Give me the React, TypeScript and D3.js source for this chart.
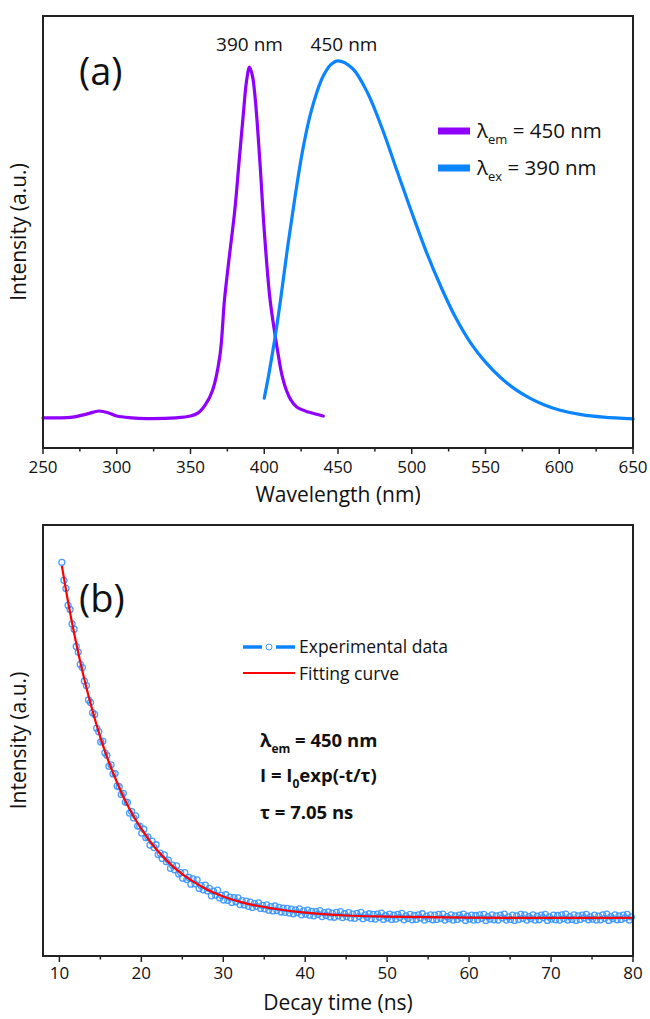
import React from 'react';
import * as d3 from 'd3';

// ---------- Panel (a): spectra ----------
const excWavelength = [250, 260, 270, 280, 288, 295, 300, 310, 320, 340, 350, 355, 360, 365, 370, 373, 376, 380, 383, 386, 388, 390, 392, 394, 397, 400, 404, 409, 412, 415, 418, 422, 430, 440];
const excIntensity = [0.006, 0.006, 0.008, 0.017, 0.025, 0.019, 0.011, 0.006, 0.004, 0.006, 0.011, 0.019, 0.042, 0.083, 0.181, 0.333, 0.444, 0.583, 0.722, 0.861, 0.944, 0.983, 0.958, 0.889, 0.722, 0.528, 0.333, 0.194, 0.125, 0.083, 0.056, 0.036, 0.022, 0.011];

const emWavelength = [400, 403, 407, 411, 416, 421, 426, 431, 436, 440, 445, 450, 460, 470, 480, 490, 500, 510, 520, 530, 540, 550, 560, 570, 580, 590, 600, 615, 630, 650];
const emIntensity = [0.061, 0.125, 0.222, 0.333, 0.486, 0.625, 0.75, 0.847, 0.917, 0.958, 0.989, 1.0, 0.978, 0.911, 0.811, 0.694, 0.578, 0.467, 0.369, 0.283, 0.214, 0.161, 0.119, 0.086, 0.061, 0.042, 0.028, 0.015, 0.008, 0.003];

const wlTicks = [250, 300, 350, 400, 450, 500, 550, 600, 650];
const wlMinor = [275, 325, 375, 425, 475, 525, 575, 625];

// ---------- Panel (b): decay ----------
const decayStart = 10.3;
const decayStep = 0.25;
const decayMeasured = [
  1.010, 0.959, 0.936, 0.888, 0.876, 0.835, 0.820, 0.771, 0.755, 0.720,
  0.711, 0.673, 0.660, 0.619, 0.612, 0.583, 0.578, 0.539, 0.529, 0.500,
  0.502, 0.469, 0.462, 0.431, 0.435, 0.409, 0.410, 0.375, 0.373, 0.351,
  0.354, 0.329, 0.328, 0.298, 0.303, 0.284, 0.290, 0.261, 0.261, 0.241,
  0.252, 0.228, 0.230, 0.207, 0.218, 0.200, 0.208, 0.180, 0.184, 0.169,
  0.179, 0.160, 0.164, 0.141, 0.150, 0.137, 0.148, 0.125, 0.129, 0.113,
  0.129, 0.109, 0.115, 0.096, 0.111, 0.097, 0.108, 0.084, 0.092, 0.080,
  0.093, 0.077, 0.084, 0.063, 0.076, 0.065, 0.079, 0.057, 0.064, 0.051,
  0.066, 0.050, 0.059, 0.044, 0.058, 0.046, 0.057, 0.038, 0.049, 0.037,
  0.048, 0.033, 0.045, 0.030, 0.041, 0.033, 0.043, 0.027, 0.036, 0.026,
  0.037, 0.022, 0.032, 0.020, 0.034, 0.021, 0.030, 0.017, 0.028, 0.016,
  0.027, 0.014, 0.025, 0.012, 0.023, 0.015, 0.026, 0.009, 0.020, 0.011,
  0.022, 0.008, 0.019, 0.006, 0.018, 0.010, 0.021, 0.004, 0.015, 0.007,
  0.017, 0.003, 0.014, 0.002, 0.016, 0.006, 0.018, 0.001, 0.012, 0.004,
  0.015, 0.000, 0.011, -0.001, 0.013, 0.004, 0.016, -0.002, 0.009, 0.002,
  0.012, -0.002, 0.010, -0.003, 0.011, 0.002, 0.014, -0.004, 0.007, 0.000,
  0.011, -0.004, 0.008, -0.003, 0.010, 0.001, 0.013, -0.005, 0.006, -0.001,
  0.010, -0.005, 0.007, -0.004, 0.009, 0.000, 0.012, -0.006, 0.005, -0.002,
  0.009, -0.005, 0.008, -0.004, 0.010, -0.001, 0.011, -0.006, 0.004, -0.002,
  0.009, -0.006, 0.006, -0.004, 0.008, 0.000, 0.011, -0.007, 0.005, -0.003,
  0.008, -0.006, 0.007, -0.005, 0.009, -0.001, 0.010, -0.007, 0.004, -0.003,
  0.009, -0.005, 0.006, -0.006, 0.008, 0.000, 0.011, -0.006, 0.003, -0.004,
  0.008, -0.007, 0.006, -0.004, 0.010, -0.001, 0.009, -0.006, 0.004, -0.002,
  0.009, -0.006, 0.005, -0.005, 0.008, 0.001, 0.010, -0.007, 0.003, -0.003,
  0.008, -0.005, 0.007, -0.006, 0.009, -0.002, 0.011, -0.006, 0.004, -0.004,
  0.009, -0.007, 0.006, -0.004, 0.008, 0.000, 0.010, -0.005, 0.003, -0.003,
  0.008, -0.006, 0.005, -0.005, 0.009, -0.001, 0.011, -0.007, 0.004, -0.002,
  0.009, -0.005, 0.006, -0.004, 0.008, 0.000, 0.010, -0.006, 0.003,
];
const fitTime = [10.3, 11, 12, 13, 14, 15, 16, 17, 18, 19, 20, 22, 24, 26, 28, 30, 33, 36, 40, 45, 50, 60, 70, 80];
const fitIntensity = [1.0, 0.905, 0.786, 0.682, 0.592, 0.513, 0.445, 0.387, 0.335, 0.291, 0.253, 0.19, 0.143, 0.108, 0.081, 0.061, 0.04, 0.027, 0.015, 0.007, 0.004, 0.001, 0.0, 0.0];

const timeTicks = [10, 20, 30, 40, 50, 60, 70, 80];
const timeMinor = [15, 25, 35, 45, 55, 65, 75];

const FONT = "'Open Sans', Lato, sans-serif";
const PURPLE = '#8f00ff';
const BLUE = '#0a84ff';

export default function App() {
  const W = 650, H = 1019;
  const L = 43, R = 633;
  const aTop = 16, aBot = 448;
  const bTop = 525, bBot = 956;

  const xA = d3.scaleLinear().domain([250, 650]).range([L, R]);
  const yA = d3.scaleLinear().domain([-0.078, 1.125]).range([aBot, aTop]);
  const xB = d3.scaleLinear().domain([8, 80]).range([L, R]);
  const yB = d3.scaleLinear().domain([-0.108, 1.116]).range([bBot, bTop]);

  const lineA = d3.line<[number, number]>().x(d => xA(d[0])).y(d => yA(d[1])).curve(d3.curveCatmullRom.alpha(0.5));
  const lineB = d3.line<[number, number]>().x(d => xB(d[0])).y(d => yB(d[1])).curve(d3.curveMonotoneX);

  const excPath = lineA(excWavelength.map((w, i) => [w, excIntensity[i]]));
  const emPath = lineA(emWavelength.map((w, i) => [w, emIntensity[i]]));
  const fitPath = lineB(fitTime.map((t, i) => [t, fitIntensity[i]]));
  const measured = decayMeasured.map((v, i) => [decayStart + i * decayStep, v] as [number, number]);

  const tickLabelStyle = { fontFamily: FONT, fontSize: 17, fill: '#111' } as const;
  const titleStyle = { fontFamily: FONT, fontSize: 21, fill: '#111' } as const;

  return (
    <svg width={W} height={H} style={{ position: 'absolute', left: 0, top: 0, background: '#fff' }}>
      <rect x={0} y={0} width={W} height={H} fill="#fff" />
      {/* ---------- Panel (a) ---------- */}
      <g>
        <path d={excPath || ''} fill="none" stroke={PURPLE} strokeWidth={3.2} strokeLinejoin="round" strokeLinecap="round" />
        <path d={emPath || ''} fill="none" stroke={BLUE} strokeWidth={3.2} strokeLinejoin="round" strokeLinecap="round" />
        <rect x={L} y={aTop} width={R - L} height={aBot - aTop} fill="none" stroke="#222" strokeWidth={2} />
        {wlTicks.map(t => (
          <g key={'a' + t}>
            <line x1={xA(t)} x2={xA(t)} y1={aBot} y2={aBot + 6} stroke="#222" strokeWidth={1.5} />
            <text x={xA(t)} y={aBot + 25} textAnchor="middle" style={tickLabelStyle}>{t}</text>
          </g>
        ))}
        {wlMinor.map(t => (
          <line key={'am' + t} x1={xA(t)} x2={xA(t)} y1={aBot} y2={aBot + 3.5} stroke="#222" strokeWidth={1.5} />
        ))}
        <text x={(L + R) / 2} y={502} textAnchor="middle" style={titleStyle}>Wavelength (nm)</text>
        <text transform={`translate(26, ${(aTop + aBot) / 2}) rotate(-90)`} textAnchor="middle" style={titleStyle}>Intensity (a.u.)</text>
        <text x={79} y={85} style={{ fontFamily: FONT, fontSize: 38, fill: '#111' }}>(a)</text>
        <text x={xA(390)} y={51} textAnchor="middle" style={{ fontFamily: FONT, fontSize: 19, fill: '#111' }}>390 nm</text>
        <text x={xA(450) + 6} y={51} textAnchor="middle" style={{ fontFamily: FONT, fontSize: 19, fill: '#111' }}>450 nm</text>
        {/* legend */}
        <line x1={438} x2={470} y1={131} y2={131} stroke={PURPLE} strokeWidth={7} />
        <text x={477} y={138} style={{ fontFamily: FONT, fontSize: 20.5, fill: '#111' }}>
          λ<tspan fontSize={13} dy={6}>em</tspan><tspan dy={-6}> = 450 nm</tspan>
        </text>
        <line x1={438} x2={470} y1={168} y2={168} stroke={BLUE} strokeWidth={7} />
        <text x={477} y={175} style={{ fontFamily: FONT, fontSize: 20.5, fill: '#111' }}>
          λ<tspan fontSize={13} dy={6}>ex</tspan><tspan dy={-6}> = 390 nm</tspan>
        </text>
      </g>

      {/* ---------- Panel (b) ---------- */}
      <g>
        {measured.map((d, i) => (
          <circle key={'m' + i} cx={xB(d[0])} cy={yB(d[1])} r={3} fill="none" stroke="#3594ff" strokeWidth={1.3} opacity={0.9} />
        ))}
        <path d={fitPath || ''} fill="none" stroke="#ff0000" strokeWidth={2.2} strokeLinejoin="round" />
        <rect x={L} y={bTop} width={R - L} height={bBot - bTop} fill="none" stroke="#222" strokeWidth={2} />
        {timeTicks.map(t => (
          <g key={'b' + t}>
            <line x1={xB(t)} x2={xB(t)} y1={bBot} y2={bBot + 6} stroke="#222" strokeWidth={1.5} />
            <text x={xB(t)} y={bBot + 23} textAnchor="middle" style={tickLabelStyle}>{t}</text>
          </g>
        ))}
        {timeMinor.map(t => (
          <line key={'bm' + t} x1={xB(t)} x2={xB(t)} y1={bBot} y2={bBot + 3.5} stroke="#222" strokeWidth={1.5} />
        ))}
        <text x={(L + R) / 2} y={1010} textAnchor="middle" style={titleStyle}>Decay time (ns)</text>
        <text transform={`translate(26, ${(bTop + bBot) / 2}) rotate(-90)`} textAnchor="middle" style={titleStyle}>Intensity (a.u.)</text>
        <text x={79} y={612} style={{ fontFamily: FONT, fontSize: 38, fill: '#111' }}>(b)</text>
        {/* legend */}
        <line x1={243} x2={262} y1={647} y2={647} stroke={BLUE} strokeWidth={3.5} />
        <line x1={276} x2={295} y1={647} y2={647} stroke={BLUE} strokeWidth={3.5} />
        <circle cx={269} cy={647} r={3} fill="#fff" stroke="#3d9bff" strokeWidth={1} />
        <text x={299} y={653} style={{ fontFamily: FONT, fontSize: 17.5, fill: '#111' }}>Experimental data</text>
        <line x1={243} x2={295} y1={673} y2={673} stroke="#ff0000" strokeWidth={2.2} />
        <text x={299} y={680} style={{ fontFamily: FONT, fontSize: 17.5, fill: '#111' }}>Fitting curve</text>
        {/* annotation */}
        <text x={260} y={747} style={{ fontFamily: FONT, fontSize: 18.5, fontWeight: 700, fill: '#111' }}>
          λ<tspan fontSize={12} dy={6}>em</tspan><tspan dy={-6}> = 450 nm</tspan>
        </text>
        <text x={260} y={782} style={{ fontFamily: FONT, fontSize: 18.5, fontWeight: 700, fill: '#111' }}>
          I = I<tspan fontSize={12} dy={6}>0</tspan><tspan dy={-6}>exp(-t/τ)</tspan>
        </text>
        <text x={260} y={819} style={{ fontFamily: FONT, fontSize: 18.5, fontWeight: 700, fill: '#111' }}>τ = 7.05 ns</text>
      </g>
    </svg>
  );
}
